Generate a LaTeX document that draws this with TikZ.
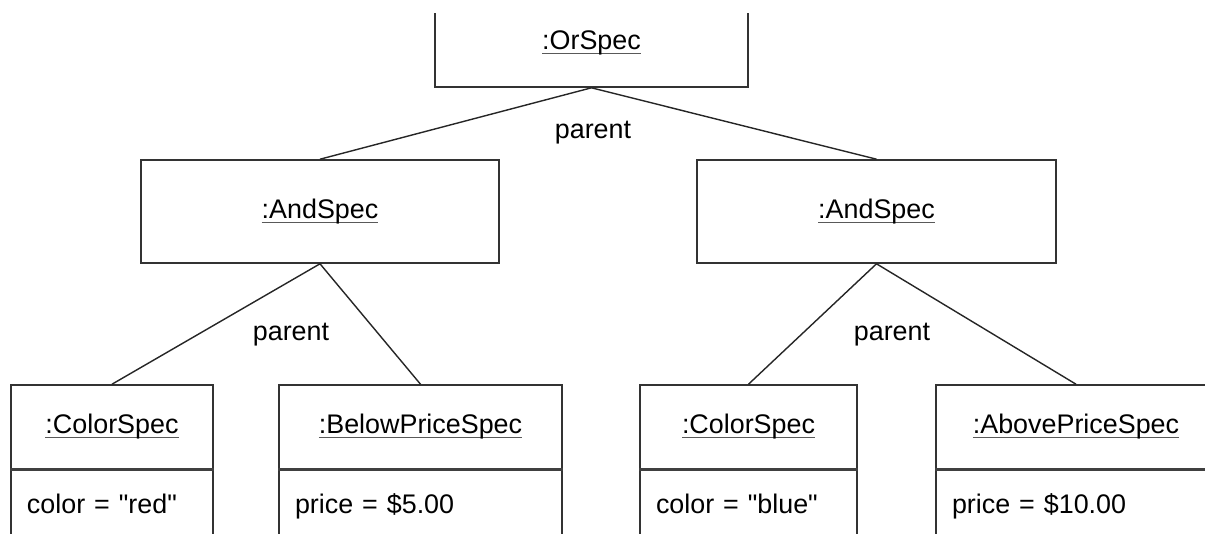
\documentclass[tikz,border=0pt]{standalone}
\usepackage{fontspec}
\setmainfont{Liberation Sans}[Ligatures=TeXOff]
\usepackage{tikz}
\usetikzlibrary{positioning}
\newsavebox{\objbox}
\newcommand{\objname}[1]{\sbox{\objbox}{#1}\rlap{\textcolor{black!65}{\rule[-0.9mm]{\wd\objbox}{0.6pt}}}\usebox{\objbox}}
\tikzset{
    specbox/.style={
        rectangle,
        draw=black!80,
        line width=0.9pt,
        inner sep=0pt,
        text centered
    },
    topbox/.style={
        specbox,
        minimum height=20.6mm
    },
    namebox/.style={
        specbox,
        minimum height=16.8mm
    },
    attrbox/.style={
        specbox,
        anchor=north,
        align=left,
        inner xsep=3.2mm,
        inner ysep=0pt,
        text height=8.6mm,
        text depth=12mm
    },
    divider/.style={
        draw=black!75,
        line width=1.6pt
    },
    link/.style={
        draw=black!85,
        line width=0.8pt
    },
    rolename/.style={
        inner sep=0pt
    }
}

\begin{document}
\begin{tikzpicture}[x=0.2mm, y=-0.2mm, every node/.style={font=\fontsize{15.3}{18}\selectfont}]
    \useasboundingbox (0,0) rectangle (1205,533);
    \clip (0,13) rectangle (1205,533);

    % Root
    \node[specbox, minimum width=62.6mm, minimum height=17.8mm] (orspec) at (591.5,42.5) {\objname{:OrSpec}};

    % Second level
    \node[topbox, minimum width=71.6mm] (andleft) at (320,211.5) {\objname{:AndSpec}};
    \node[topbox, minimum width=71.8mm] (andright) at (876.5,211.5) {\objname{:AndSpec}};
    \draw[link] (orspec.south) -- (andleft.north);
    \draw[link] (orspec.south) -- (andright.north);
    \node[rolename] (parenttop) at (593,133) {parent};

    % Leaves of the left branch
    \node[namebox, minimum width=40.4mm] (colorleft) at (112,427) {\objname{:ColorSpec}};
    \node[attrbox, text width=34mm] (colorleftattr) at (colorleft.south) {color = "red"};
    \draw[divider] (colorleft.south west) -- (colorleft.south east);
    \node[namebox, minimum width=56.6mm] (below) at (420.5,427) {\objname{:BelowPriceSpec}};
    \node[attrbox, text width=50.2mm] (belowattr) at (below.south) {price = \$5.00};
    \draw[divider] (below.south west) -- (below.south east);
    \draw[link] (andleft.south) -- (colorleft.north);
    \draw[link] (andleft.south) -- (below.north);
    \node[rolename] (parentleft) at (291,335) {parent};

    % Leaves of the right branch
    \node[namebox, minimum width=43.4mm] (colorright) at (748.5,427) {\objname{:ColorSpec}};
    \node[attrbox, text width=37mm] (colorrightattr) at (colorright.south) {color = "blue"};
    \draw[divider] (colorright.south west) -- (colorright.south east);
    \node[namebox, minimum width=56mm] (above) at (1076,427) {\objname{:AbovePriceSpec}};
    \node[attrbox, text width=49.6mm] (aboveattr) at (above.south) {price = \$10.00};
    \draw[divider] (above.south west) -- (above.south east);
    \draw[link] (andright.south) -- (colorright.north);
    \draw[link] (andright.south) -- (above.north);
    \node[rolename] (parentright) at (892,335) {parent};
\end{tikzpicture}
\end{document}
